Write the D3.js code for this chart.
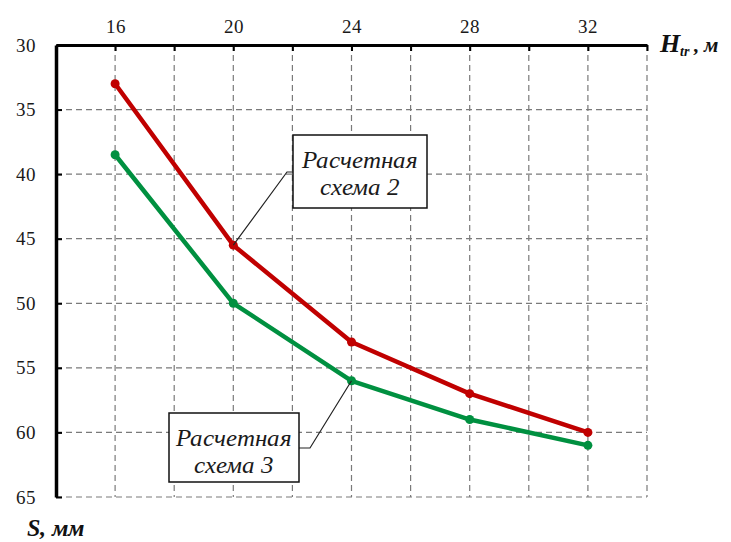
<!DOCTYPE html>
<html>
<head>
<meta charset="utf-8">
<script src="https://cdn.jsdelivr.net/npm/d3@7"></script>
<style>
  @font-face { font-family: "ChartSerif"; font-style: normal; font-weight: 400;
    src: local("Liberation Serif"), local("LiberationSerif"), local("Tinos"); }
  @font-face { font-family: "ChartSerif"; font-style: italic; font-weight: 400;
    src: local("Liberation Serif Italic"), local("LiberationSerif-Italic"), local("Tinos Italic"); }
  @font-face { font-family: "ChartSerif"; font-style: italic; font-weight: 700;
    src: local("Liberation Serif Bold Italic"), local("LiberationSerif-BoldItalic"), local("Tinos Bold Italic"); }
  body { margin: 0; background: #fff; }
  svg { display: block; }
  svg text { font-family: "ChartSerif", "Liberation Serif", serif; }
</style>
</head>
<body>
<figure id="chart" style="margin:0"></figure>
<script>
// chart data
const heights = [16, 20, 24, 28, 32];              // H, м
const scheme2 = [33, 45.5, 53, 57, 60];            // S, мм (red)
const scheme3 = [38.5, 50, 56, 59, 61];            // S, мм (green)
const xTicks = [16, 18, 20, 22, 24, 26, 28, 30, 32, 34];
const xLabels = [16, 20, 24, 28, 32];
const yTicks = [30, 35, 40, 45, 50, 55, 60, 65];

const width = 731, height = 542;
const margin = { top: 45, left: 56, right: 84, bottom: 45 };

// make sure the serif faces get loaded
if (document.fonts) {
  document.fonts.load("19px ChartSerif");
  document.fonts.load("italic 24px ChartSerif");
  document.fonts.load("italic bold 24px ChartSerif");
}

const svg = d3.select("#chart").append("svg")
  .attr("width", width)
  .attr("height", height);

const x = d3.scaleLinear().domain([14, 34]).range([margin.left, width - margin.right]);
const y = d3.scaleLinear().domain([30, 65]).range([margin.top, height - margin.bottom]);

// grid
const grid = svg.append("g")
  .attr("stroke", "#7a7a7a")
  .attr("stroke-width", 1.2)
  .attr("stroke-dasharray", "6,4");
grid.selectAll("line.v")
  .data(xTicks).enter()
  .append("line")
  .attr("x1", d => x(d)).attr("x2", d => x(d))
  .attr("y1", y(30)).attr("y2", y(65));
grid.selectAll("line.h")
  .data(yTicks.slice(1)).enter()
  .append("line")
  .attr("x1", x(14)).attr("x2", x(34))
  .attr("y1", d => y(d)).attr("y2", d => y(d));

// top axis
const xAxis = svg.append("g")
  .attr("transform", "translate(0," + y(30) + ")")
  .call(d3.axisTop(x)
    .tickValues(xTicks)
    .tickSizeInner(-6)
    .tickSizeOuter(0)
    .tickPadding(12)
    .tickFormat(d => xLabels.includes(d) ? d : ""));
xAxis.attr("font-family", null);
xAxis.select(".domain").attr("stroke", "#000").attr("stroke-width", 3);
xAxis.selectAll(".tick line").attr("stroke", "#000").attr("stroke-width", 2);
xAxis.selectAll(".tick text")
  .attr("font-size", 19).attr("fill", "#1a1a1a");

// left axis
const yAxis = svg.append("g")
  .attr("transform", "translate(" + x(14) + ",0)")
  .call(d3.axisLeft(y)
    .tickValues(yTicks)
    .tickSizeInner(-6)
    .tickSizeOuter(0)
    .tickPadding(20));
yAxis.attr("font-family", null);
yAxis.select(".domain").attr("stroke", "#000").attr("stroke-width", 3.5);
yAxis.selectAll(".tick line").attr("stroke", "#000").attr("stroke-width", 2);
yAxis.selectAll(".tick text")
  .attr("font-size", 19).attr("fill", "#1a1a1a");

// series
const series = [
  { values: scheme2, color: "#c00000" },
  { values: scheme3, color: "#009040" }
];
const line = d3.line().x((d, i) => x(heights[i])).y(d => y(d));
series.forEach(s => {
  svg.append("path")
    .attr("d", line(s.values))
    .attr("fill", "none")
    .attr("stroke", s.color)
    .attr("stroke-width", 4.5)
    .attr("stroke-linejoin", "round");
  svg.selectAll(null)
    .data(s.values).enter()
    .append("circle")
    .attr("cx", (d, i) => x(heights[i]))
    .attr("cy", d => y(d))
    .attr("r", 4.5)
    .attr("fill", s.color);
});

// callouts
const callouts = [
  { box: [293, 135, 134, 73], text: ["Расчетная", "схема 2"], target: [20, 45.5], bend: [287, 172], side: 0 },
  { box: [169, 413, 130, 69], text: ["Расчетная", "схема 3"], target: [24, 56], bend: [310, 448], side: 1 }
];
callouts.forEach(c => {
  const [bx, by, bw, bh] = c.box;
  const edgeX = c.side ? bx + bw : bx;
  svg.append("path")
    .attr("d", d3.line()([[x(c.target[0]), y(c.target[1])], c.bend, [edgeX, c.bend[1]]]))
    .attr("fill", "none")
    .attr("stroke", "#222")
    .attr("stroke-width", 1.2);
  svg.append("rect")
    .attr("x", bx).attr("y", by).attr("width", bw).attr("height", bh)
    .attr("fill", "#fff").attr("stroke", "#111").attr("stroke-width", 1.5);
  svg.append("text")
    .attr("font-style", "italic").attr("font-size", 25)
    .attr("fill", "#1a1a1a")
    .attr("text-anchor", "middle")
    .selectAll("tspan")
    .data(c.text).enter()
    .append("tspan")
    .attr("x", bx + bw / 2)
    .attr("y", (d, i) => by + 33 + i * 27)
    .text(d => d);
});

// axis titles
const hTitle = svg.append("text")
  .attr("x", 660).attr("y", 52)
  .attr("font-style", "italic").attr("font-weight", "bold")
  .attr("font-size", 26).attr("fill", "#111");
hTitle.append("tspan").text("H");
hTitle.append("tspan").attr("font-size", 14).attr("dy", 4).text("tr");
hTitle.append("tspan").attr("font-size", 21).attr("dy", -4).text(" , м");

svg.append("text")
  .attr("x", 27).attr("y", 536)
  .attr("font-style", "italic").attr("font-weight", "bold")
  .attr("font-size", 24).attr("fill", "#111")
  .text("S, мм");
</script>
</body>
</html>
